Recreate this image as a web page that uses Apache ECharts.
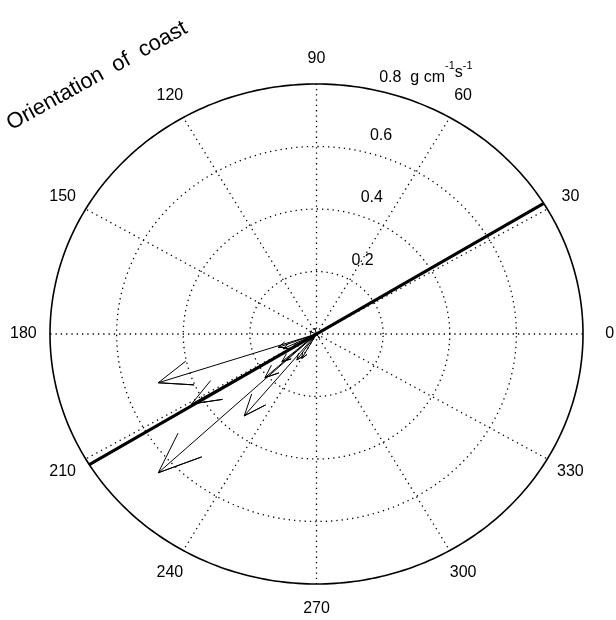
<!DOCTYPE html>
<html><head><meta charset="utf-8">
<script src="https://cdn.jsdelivr.net/npm/echarts@6/dist/echarts.min.js"></script>
<style>html,body{margin:0;padding:0;background:#fff}#c{width:616px;height:620px}</style>
</head><body><div id="c"></div>
<script>
// ---- data ----
const angleTicks = [0, 30, 60, 90, 120, 150, 180, 210, 240, 270, 300, 330];
const ringValues = [0.2, 0.4, 0.6, 0.8];
const ringLabels = ['0.2', '0.4', '0.6', '0.8'];
const unitLabel = 'g cm{s|-1}s{s|-1}';
const arrowU = [-0.475, -0.375, -0.217, -0.475, -0.155, -0.104, -0.115, -0.100, -0.059, -0.044, -0.005, -0.030, -0.070, 0.008, -0.020];
const arrowV = [-0.156, -0.224, -0.262, -0.444, -0.140, -0.089, -0.043, -0.047, -0.083, -0.078, 0.018, -0.020, -0.040, -0.012, 0.008];
const coastAngle = 31.5;
const coastLength = 0.8;
const titleText = 'Orientation  of  coast';
const R = 0.8;
const FONT = '"Liberation Sans", Arial, Helvetica, sans-serif';

const rad = d => d * Math.PI / 180;
const arrows = arrowU.map((u, i) => [u, arrowV[i]]);
const coastPts = [
  [coastLength * Math.cos(rad(coastAngle)), coastLength * Math.sin(rad(coastAngle))],
  [coastLength * Math.cos(rad(coastAngle + 180)), coastLength * Math.sin(rad(coastAngle + 180))]
];

const chart = echarts.init(document.getElementById('c'), null, {renderer: 'canvas'});
const hiddenAxis = {
  type: 'value', min: -R, max: R,
  axisLine: {show: false}, axisTick: {show: false}, axisLabel: {show: false}, splitLine: {show: false}
};
chart.setOption({
  animation: false,
  backgroundColor: '#fff',
  grid: {left: 50, top: 84, width: 533, height: 500},
  xAxis: hiddenAxis,
  yAxis: hiddenAxis,
  graphic: [{
    type: 'text', x: 97, y: 76, rotation: 29 * Math.PI / 180,
    style: {text: titleText, fontSize: 22, fontFamily: FONT, fill: '#000',
      align: 'center', verticalAlign: 'middle', textAlign: 'center', textVerticalAlign: 'middle'}
  }],
  series: [
    { // rings
      type: 'custom', clip: false, silent: true, z: 1,
      data: ringValues.map(r => [r, 0]),
      renderItem: (params, api) => {
        const r = api.value(0);
        const pts = [];
        for (let a = 0; a <= 360; a += 1) pts.push(api.coord([r * Math.cos(rad(a)), r * Math.sin(rad(a))]));
        const outer = Math.abs(r - R) < 1e-9;
        return {type: 'polyline', shape: {points: pts},
          style: {stroke: '#000', fill: 'none', lineWidth: outer ? 1.6 : 1.3, lineDash: outer ? null : [1.3, 4]}};
      }
    },
    { // spokes
      type: 'custom', clip: false, silent: true, z: 1,
      data: angleTicks.map(a => [a, 0]),
      renderItem: (params, api) => {
        const a = api.value(0);
        const p0 = api.coord([0, 0]);
        const p1 = api.coord([R * Math.cos(rad(a)), R * Math.sin(rad(a))]);
        return {type: 'line', shape: {x1: p0[0], y1: p0[1], x2: p1[0], y2: p1[1]},
          style: {stroke: '#000', lineWidth: 1.3, lineDash: [1.3, 4]}};
      }
    },
    { // angle labels
      type: 'custom', clip: false, silent: true, z: 2,
      data: angleTicks.map(a => [a, 0]),
      renderItem: (params, api) => {
        const a = api.value(0);
        const p = api.coord([1.1 * R * Math.cos(rad(a)), 1.1 * R * Math.sin(rad(a))]);
        return {type: 'text', x: p[0], y: p[1],
          style: {text: String(a), fontSize: 16, fontFamily: FONT, fill: '#000', align: 'center', verticalAlign: 'middle'}};
      }
    },
    { // ring labels
      type: 'custom', clip: false, silent: true, z: 2,
      data: ringValues.map((r, i) => [r, i]),
      renderItem: (params, api) => {
        const r = api.value(0), i = api.value(1);
        const p = api.coord([r * 0.139 + 0.077, r + 0.035]);
        const last = i === ringValues.length - 1;
        const text = last ? '{n|' + ringLabels[i] + '  ' + '}' + unitLabel.replace(/^([^{]*)/, '{n|$1}') : ringLabels[i];
        return {type: 'text', x: p[0], y: p[1],
          style: {text: text, fontSize: 16, fontFamily: FONT, fill: '#000', align: 'left', verticalAlign: 'middle',
            rich: {
              n: {fontSize: 16, fontFamily: FONT, lineHeight: 26, verticalAlign: 'bottom'},
              s: {fontSize: 11, fontFamily: FONT, lineHeight: 26, verticalAlign: 'top'}
            }}};
      }
    },
    { // arrows
      type: 'custom', clip: false, silent: true, z: 3,
      data: arrows,
      renderItem: (params, api) => {
        const u = api.value(0), v = api.value(1);
        const p0 = api.coord([0, 0]);
        const p1 = api.coord([u, v]);
        const h1 = api.coord([0.8 * u - 0.08 * v, 0.8 * v + 0.08 * u]);
        const h2 = api.coord([0.8 * u + 0.08 * v, 0.8 * v - 0.08 * u]);
        return {type: 'polyline', shape: {points: [p0, p1, h1, p1, h2]},
          style: {stroke: '#000', fill: 'none', lineWidth: 1, lineJoin: 'miter'}};
      }
    },
    { // coast orientation line
      type: 'line', z: 4, silent: true, symbol: 'none',
      data: coastPts,
      lineStyle: {color: '#000', width: 3}
    }
  ]
});
</script>
</body></html>
